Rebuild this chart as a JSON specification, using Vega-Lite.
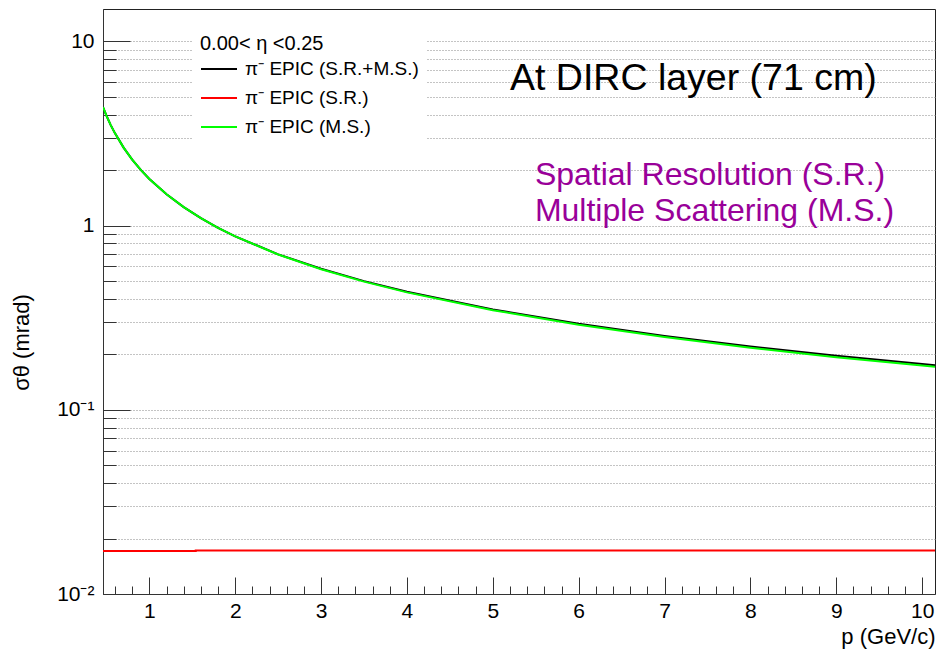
{
  "$schema": "https://vega.github.io/schema/vega-lite/v6.json",
  "width": 832,
  "height": 585,
  "autosize": {"type": "none"},
  "padding": {"left": 103, "top": 9, "right": 15, "bottom": 60},
  "background": "white",
  "config": {
    "view": {"stroke": "#222222", "strokeWidth": 1},
    "font": "Liberation Sans"
  },
  "datasets": {
    "curves": [
      {"series": "π⁻ EPIC (S.R.+M.S.)", "i": 0, "p": 0.46, "sigma": 4.40},
      {"series": "π⁻ EPIC (S.R.+M.S.)", "i": 1, "p": 0.5, "sigma": 3.951},
      {"series": "π⁻ EPIC (S.R.+M.S.)", "i": 2, "p": 0.55, "sigma": 3.514},
      {"series": "π⁻ EPIC (S.R.+M.S.)", "i": 3, "p": 0.6, "sigma": 3.168},
      {"series": "π⁻ EPIC (S.R.+M.S.)", "i": 4, "p": 0.7, "sigma": 2.652},
      {"series": "π⁻ EPIC (S.R.+M.S.)", "i": 5, "p": 0.8, "sigma": 2.283},
      {"series": "π⁻ EPIC (S.R.+M.S.)", "i": 6, "p": 0.9, "sigma": 2.008},
      {"series": "π⁻ EPIC (S.R.+M.S.)", "i": 7, "p": 1.0, "sigma": 1.792},
      {"series": "π⁻ EPIC (S.R.+M.S.)", "i": 8, "p": 1.2, "sigma": 1.479},
      {"series": "π⁻ EPIC (S.R.+M.S.)", "i": 9, "p": 1.4, "sigma": 1.260},
      {"series": "π⁻ EPIC (S.R.+M.S.)", "i": 10, "p": 1.6, "sigma": 1.098},
      {"series": "π⁻ EPIC (S.R.+M.S.)", "i": 11, "p": 1.8, "sigma": 0.973},
      {"series": "π⁻ EPIC (S.R.+M.S.)", "i": 12, "p": 2.0, "sigma": 0.875},
      {"series": "π⁻ EPIC (S.R.+M.S.)", "i": 13, "p": 2.5, "sigma": 0.698},
      {"series": "π⁻ EPIC (S.R.+M.S.)", "i": 14, "p": 3.0, "sigma": 0.583},
      {"series": "π⁻ EPIC (S.R.+M.S.)", "i": 15, "p": 3.5, "sigma": 0.4995},
      {"series": "π⁻ EPIC (S.R.+M.S.)", "i": 16, "p": 4.0, "sigma": 0.437},
      {"series": "π⁻ EPIC (S.R.+M.S.)", "i": 17, "p": 5.0, "sigma": 0.3504},
      {"series": "π⁻ EPIC (S.R.+M.S.)", "i": 18, "p": 6.0, "sigma": 0.2929},
      {"series": "π⁻ EPIC (S.R.+M.S.)", "i": 19, "p": 7.0, "sigma": 0.2515},
      {"series": "π⁻ EPIC (S.R.+M.S.)", "i": 20, "p": 8.0, "sigma": 0.2206},
      {"series": "π⁻ EPIC (S.R.+M.S.)", "i": 21, "p": 9.0, "sigma": 0.1964},
      {"series": "π⁻ EPIC (S.R.+M.S.)", "i": 22, "p": 10.0, "sigma": 0.1771},
      {"series": "π⁻ EPIC (S.R.+M.S.)", "i": 23, "p": 10.15, "sigma": 0.1745},
      {"series": "π⁻ EPIC (S.R.)", "i": 0, "p": 0.46, "sigma": 0.01713},
      {"series": "π⁻ EPIC (S.R.)", "i": 1, "p": 1.54, "sigma": 0.01713},
      {"series": "π⁻ EPIC (S.R.)", "i": 2, "p": 1.54, "sigma": 0.01722},
      {"series": "π⁻ EPIC (S.R.)", "i": 3, "p": 10.15, "sigma": 0.01722},
      {"series": "π⁻ EPIC (M.S.)", "i": 0, "p": 0.46, "sigma": 4.40},
      {"series": "π⁻ EPIC (M.S.)", "i": 1, "p": 0.5, "sigma": 3.951},
      {"series": "π⁻ EPIC (M.S.)", "i": 2, "p": 0.55, "sigma": 3.514},
      {"series": "π⁻ EPIC (M.S.)", "i": 3, "p": 0.6, "sigma": 3.168},
      {"series": "π⁻ EPIC (M.S.)", "i": 4, "p": 0.7, "sigma": 2.652},
      {"series": "π⁻ EPIC (M.S.)", "i": 5, "p": 0.8, "sigma": 2.283},
      {"series": "π⁻ EPIC (M.S.)", "i": 6, "p": 0.9, "sigma": 2.008},
      {"series": "π⁻ EPIC (M.S.)", "i": 7, "p": 1.0, "sigma": 1.792},
      {"series": "π⁻ EPIC (M.S.)", "i": 8, "p": 1.2, "sigma": 1.479},
      {"series": "π⁻ EPIC (M.S.)", "i": 9, "p": 1.4, "sigma": 1.2595},
      {"series": "π⁻ EPIC (M.S.)", "i": 10, "p": 1.6, "sigma": 1.0976},
      {"series": "π⁻ EPIC (M.S.)", "i": 11, "p": 1.8, "sigma": 0.973},
      {"series": "π⁻ EPIC (M.S.)", "i": 12, "p": 2.0, "sigma": 0.8739},
      {"series": "π⁻ EPIC (M.S.)", "i": 13, "p": 2.5, "sigma": 0.697},
      {"series": "π⁻ EPIC (M.S.)", "i": 14, "p": 3.0, "sigma": 0.5799},
      {"series": "π⁻ EPIC (M.S.)", "i": 15, "p": 3.5, "sigma": 0.4965},
      {"series": "π⁻ EPIC (M.S.)", "i": 16, "p": 4.0, "sigma": 0.4342},
      {"series": "π⁻ EPIC (M.S.)", "i": 17, "p": 5.0, "sigma": 0.3476},
      {"series": "π⁻ EPIC (M.S.)", "i": 18, "p": 6.0, "sigma": 0.2897},
      {"series": "π⁻ EPIC (M.S.)", "i": 19, "p": 7.0, "sigma": 0.2483},
      {"series": "π⁻ EPIC (M.S.)", "i": 20, "p": 8.0, "sigma": 0.2173},
      {"series": "π⁻ EPIC (M.S.)", "i": 21, "p": 9.0, "sigma": 0.1931},
      {"series": "π⁻ EPIC (M.S.)", "i": 22, "p": 10.0, "sigma": 0.1738},
      {"series": "π⁻ EPIC (M.S.)", "i": 23, "p": 10.15, "sigma": 0.1712}
    ],
    "title": [
      {"p": 5.2, "sigma": 5.455, "label": "At DIRC layer (71 cm)"}
    ],
    "notes": [
      {"p": 5.49, "sigma": 1.672, "label": "Spatial Resolution (S.R.)"},
      {"p": 5.49, "sigma": 1.059, "label": "Multiple Scattering (M.S.)"}
    ]
  },
  "encoding": {
    "x": {
      "field": "p",
      "type": "quantitative",
      "scale": {"domain": [0.46, 10.15], "nice": false, "zero": false},
      "axis": {
        "title": "p (GeV/c)",
        "titleFontSize": 22,
        "titleFontWeight": "normal",
        "titleColor": "black",
        "titleAnchor": "end",
        "titleAlign": "right",
        "titleBaseline": "alphabetic",
        "titleX": 832,
        "titleY": 49,
        "grid": false,
        "values": [0.6, 0.8, 1, 1.2, 1.4, 1.6, 1.8, 2, 2.2, 2.4, 2.6, 2.8, 3, 3.2, 3.4, 3.6, 3.8, 4, 4.2, 4.4, 4.6, 4.8, 5, 5.2, 5.4, 5.6, 5.8, 6, 6.2, 6.4, 6.6, 6.8, 7, 7.2, 7.4, 7.6, 7.8, 8, 8.2, 8.4, 8.6, 8.8, 9, 9.2, 9.4, 9.6, 9.8, 10],
        "labelExpr": "abs(datum.value - round(datum.value)) < 0.001 ? format(datum.value, 'd') : ''",
        "labelFontSize": 21,
        "labelColor": "black",
        "labelOverlap": false,
        "labelBound": false,
        "labelFlush": false,
        "labelPadding": 23,
        "tickSize": {"condition": {"test": "abs(datum.value - round(datum.value)) < 0.001", "value": -17}, "value": -8},
        "tickColor": "#333333",
        "domainColor": "#333333"
      }
    },
    "y": {
      "field": "sigma",
      "type": "quantitative",
      "scale": {"type": "log", "domain": [0.01, 15], "nice": false},
      "axis": {
        "title": "σθ (mrad)",
        "titleFontSize": 22,
        "titleFontWeight": "normal",
        "titleColor": "black",
        "titleAngle": -90,
        "titleAlign": "center",
        "titleBaseline": "middle",
        "titleX": -82,
        "titleY": 333,
        "values": [0.01, 0.02, 0.03, 0.04, 0.05, 0.06, 0.07, 0.08, 0.09, 0.1, 0.2, 0.3, 0.4, 0.5, 0.6, 0.7, 0.8, 0.9, 1, 2, 3, 4, 5, 6, 7, 8, 9, 10],
        "labelExpr": "datum.value == 10 ? '10' : datum.value == 1 ? '1' : datum.value == 0.1 ? '10⁻¹' : datum.value == 0.01 ? '10⁻²' : ''",
        "labelFontSize": 21,
        "labelColor": "black",
        "labelOverlap": false,
        "labelBound": false,
        "labelFlush": false,
        "labelPadding": 36,
        "tickSize": {"condition": {"test": "indexof([0.01, 0.1, 1, 10], datum.value) >= 0", "value": -27}, "value": -13},
        "tickColor": "#333333",
        "domainColor": "#333333",
        "grid": true,
        "gridColor": "#888888",
        "gridDash": [1, 2],
        "gridWidth": 1
      }
    }
  },
  "layer": [
    {
      "data": {"name": "curves"},
      "transform": [{"filter": "datum.series == 'π⁻ EPIC (S.R.+M.S.)'"}],
      "mark": {"type": "line", "strokeWidth": 2, "clip": true},
      "encoding": {
        "order": {"field": "i", "type": "quantitative"},
        "color": {
          "field": "series",
          "type": "nominal",
          "scale": {"domain": ["π⁻ EPIC (S.R.+M.S.)", "π⁻ EPIC (S.R.)", "π⁻ EPIC (M.S.)"], "range": ["#000000", "#ff0000", "#00ff00"]},
          "legend": {
            "orient": "none",
            "legendX": 90,
            "legendY": 18,
            "title": "0.00< η <0.25",
            "titleFontSize": 20,
            "titleFontWeight": "normal",
            "titleColor": "black",
            "titlePadding": -4,
            "labelFontSize": 19,
            "labelColor": "black",
            "labelOffset": 7,
            "labelLimit": 300,
            "symbolType": "stroke",
            "symbolSize": 1296,
            "symbolStrokeWidth": 2,
            "rowPadding": -4.5,
            "fillColor": "white",
            "padding": 7
          }
        }
      }
    },
    {
      "data": {"name": "curves"},
      "transform": [{"filter": "datum.series == 'π⁻ EPIC (S.R.)'"}],
      "mark": {"type": "line", "strokeWidth": 2, "clip": true},
      "encoding": {
        "order": {"field": "i", "type": "quantitative"},
        "color": {"field": "series", "type": "nominal"}
      }
    },
    {
      "data": {"name": "curves"},
      "transform": [{"filter": "datum.series == 'π⁻ EPIC (M.S.)'"}],
      "mark": {"type": "line", "strokeWidth": 2, "clip": true},
      "encoding": {
        "order": {"field": "i", "type": "quantitative"},
        "color": {"field": "series", "type": "nominal"}
      }
    },
    {
      "data": {"name": "title"},
      "mark": {"type": "text", "align": "left", "baseline": "alphabetic", "fontSize": 37.5, "color": "black"},
      "encoding": {"text": {"field": "label"}}
    },
    {
      "data": {"name": "notes"},
      "mark": {"type": "text", "align": "left", "baseline": "alphabetic", "fontSize": 32, "color": "#990099"},
      "encoding": {"text": {"field": "label"}}
    }
  ]
}
